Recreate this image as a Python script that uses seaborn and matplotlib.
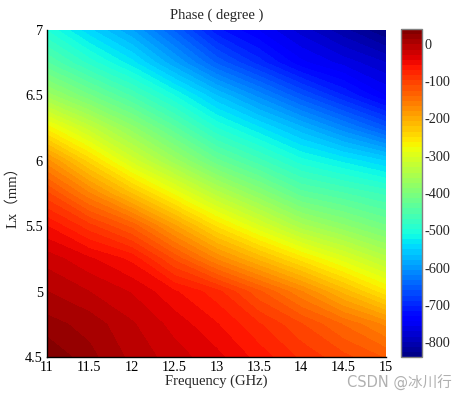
import numpy as np
import matplotlib
matplotlib.use("Agg")
import matplotlib.pyplot as plt
import seaborn as sns

# ---- data ----
freq = [11.0, 11.5, 12.0, 12.5, 13.0, 13.5, 14.0, 14.5, 15.0]          # GHz
lx = [4.5, 4.75, 5.0, 5.25, 5.5, 5.75, 6.0, 6.25, 6.5, 6.75, 7.0]        # mm

phase_lx_4_50 = [40, 17, -5, -22, -38, -62, -87, -107, -127]
phase_lx_4_75 = [18, 7, -13, -34, -55, -82, -110, -140, -170]
phase_lx_5_00 = [-1, -15, -30, -54, -78, -122, -165, -213, -260]
phase_lx_5_25 = [-21, -40, -60, -114, -168, -212, -256, -298, -339]
phase_lx_5_50 = [-56, -92, -129, -190, -251, -302, -353, -383, -412]
phase_lx_5_75 = [-108, -165, -222, -280, -338, -386, -435, -454, -473]
phase_lx_6_00 = [-175, -242, -309, -366, -423, -464, -505, -528, -552]
phase_lx_6_25 = [-268, -325, -380, -437, -496, -535, -575, -616, -658]
phase_lx_6_50 = [-365, -412, -458, -510, -565, -612, -660, -703, -745]
phase_lx_6_75 = [-440, -488, -532, -590, -650, -695, -740, -763, -785]
phase_lx_7_00 = [-498, -548, -592, -650, -712, -745, -778, -809, -840]

x_ticks = [11, 11.5, 12, 12.5, 13, 13.5, 14, 14.5, 15]
x_tick_labels = ["11", "11.5", "12", "12.5", "13", "13.5", "14", "14.5", "15"]
y_ticks = [4.5, 5, 5.5, 6, 6.5, 7]
y_tick_labels = ["4.5", "5", "5.5", "6", "6.5", "7"]
cbar_ticks = [0, -100, -200, -300, -400, -500, -600, -700, -800]
cbar_tick_labels = ["0", "-100", "-200", "-300", "-400", "-500", "-600", "-700", "-800"]
c_min, c_max = -840, 40

# ---- style ----
sns.set_style("white")
plt.rcParams["font.family"] = ["Liberation Serif", "Noto Sans CJK SC"]
plt.rcParams["font.size"] = 10

Z = np.array([phase_lx_4_50, phase_lx_4_75, phase_lx_5_00, phase_lx_5_25,
              phase_lx_5_50, phase_lx_5_75, phase_lx_6_00, phase_lx_6_25,
              phase_lx_6_50, phase_lx_6_75, phase_lx_7_00], dtype=float)
X, Y = np.meshgrid(freq, lx)

fig = plt.figure(figsize=(4.66, 3.99), dpi=100)
ax = fig.add_axes([47/466, 1-357/399, (386-47)/466, (357-30)/399])
cax = fig.add_axes([401/466, 1-357/399, 21/466, (357-29)/399])

levels = np.linspace(c_min, c_max, 65)
cs = ax.contourf(X, Y, Z, levels=levels, cmap="jet", vmin=c_min, vmax=c_max)

ax.set_xlim(11, 15)
ax.set_ylim(4.5, 7)
ax.set_xticks(x_ticks)
ax.set_xticklabels(x_tick_labels)
ax.set_yticks(y_ticks)
ax.set_yticklabels(y_tick_labels)
ax.tick_params(direction="in", length=3, width=0.8, labelsize=10.3,
               colors="black")
ax.tick_params(axis="x", pad=3)
ax.tick_params(axis="y", pad=3)
for s in ["top", "right"]:
    ax.spines[s].set_visible(False)
for s in ["left", "bottom"]:
    ax.spines[s].set_color("black")
    ax.spines[s].set_linewidth(1.0)

ax.set_title("Phase ( degree )", fontsize=10.5, pad=8)
ax.set_xlabel("Frequency (GHz)", fontsize=10.5, labelpad=0)
ax.set_ylabel("Lx（mm）", fontsize=10.5, labelpad=4)

cb = fig.colorbar(cs, cax=cax, ticks=cbar_ticks)
cb.ax.set_yticklabels(cbar_tick_labels)
cb.ax.set_ylim(c_min, c_max)
cb.ax.tick_params(direction="in", length=3, width=0.8, labelsize=10.3, pad=2,
                  left=True, right=True)
cb.outline.set_edgecolor("#808080")
cb.outline.set_linewidth(1.0)

fig.text(452/466, 1-383/399, "CSDN @冰川行", ha="right", va="center",
         fontsize=10.5, color="#b0b0b0",
         family=["DejaVu Sans", "Noto Sans CJK SC"])

fig.savefig("out.png", dpi=100)
